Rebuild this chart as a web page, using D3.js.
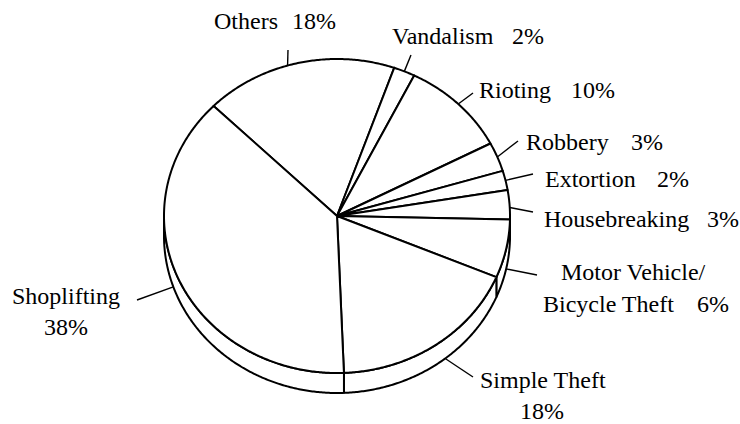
<!DOCTYPE html>
<html>
<head>
<meta charset="utf-8">
<script src="https://cdn.jsdelivr.net/npm/d3@7"></script>
<style>
  html, body { margin: 0; padding: 0; background: #fff; }
  svg { display: block; }
</style>
</head>
<body>
<svg id="chart" width="740" height="424"></svg>
<script>
// Offence categories and their share of cases (%)
const categories = [
  "Others", "Vandalism", "Rioting", "Robbery", "Extortion",
  "Housebreaking", "Motor Vehicle/\nBicycle Theft", "Simple Theft", "Shoplifting"
];
const values = [18, 2, 10, 3, 2, 3, 6, 18, 38];

// Label placement: name line origins, percentage origin, leader end, and
// a small angular shift (degrees) for where the leader meets the rim.
const labelLayout = [
  { lines: [[214, 29]], pct: [292, 29], end: [288, 50], shift: -3.5 },
  { lines: [[392, 44]], pct: [512, 44], end: [411, 55], shift: 0 },
  { lines: [[479, 98]], pct: [571, 98], end: [473, 93], shift: 0 },
  { lines: [[526, 150]], pct: [631, 150], end: [518, 141], shift: 0 },
  { lines: [[545, 187]], pct: [657, 187], end: [533, 174], shift: 0 },
  { lines: [[544, 227]], pct: [707, 227], end: [533, 212], shift: 1 },
  { lines: [[561, 280], [543, 312]], pct: [697, 312], end: [537, 275], shift: 0 },
  { lines: [[480, 388]], pct: [520, 419], end: [473, 377], shift: -4 },
  { lines: [[12, 304]], pct: [44, 335], end: [137, 300], shift: 5 }
];

const FONT = "'Liberation Serif'";

const cx = 337, cy = 216, rx = 173, ry = 157, depth = 20;
const startDeg = -45.5;
const rad = d => d * Math.PI / 180;

const svg = d3.select("#chart");

const pie = d3.pie().sort(null).value(d => d)
  .startAngle(rad(startDeg)).endAngle(rad(startDeg) + 2 * Math.PI);
const arcs = pie(values);

// Point on the tilted rim; angle measured clockwise from 12 o'clock.
const rim = (a, dy = 0) => [cx + rx * Math.sin(a), cy - ry * Math.cos(a) + dy];

function rimPoints(a0, a1, dy) {
  const n = Math.max(2, Math.ceil(Math.abs(a1 - a0) / rad(0.5)));
  return d3.range(n + 1).map(i => rim(a0 + (a1 - a0) * i / n, dy));
}

const line = d3.line();
const outline = sel => sel.attr("fill", "#fff").attr("stroke", "#000")
  .attr("stroke-width", 2).attr("stroke-linejoin", "round");

// Side wall: only the front half (90°..270°) is visible.
const frontA = rad(90), frontB = rad(270);
const sideLayer = svg.append("g");
arcs.forEach(d => {
  // bring angles into the 0..2π range for the front test
  let a0 = d.startAngle, a1 = d.endAngle;
  while (a0 < 0) { a0 += 2 * Math.PI; a1 += 2 * Math.PI; }
  const s = Math.max(a0, frontA), e = Math.min(a1, frontB);
  if (e <= s) return;
  const pts = rimPoints(s, e, 0).concat(rimPoints(e, s, depth));
  sideLayer.append("path").attr("d", line(pts) + "Z").call(outline);
});

// Top face slices
const faceLayer = svg.append("g");
arcs.forEach(d => {
  const pts = [[cx, cy]].concat(rimPoints(d.startAngle, d.endAngle, 0));
  faceLayer.append("path").attr("d", line(pts) + "Z").call(outline);
});

// Leader lines and labels
const labelLayer = svg.append("g");
const addText = (x, y, t) => labelLayer.append("text")
  .attr("x", x).attr("y", y)
  .style("font-family", FONT).attr("font-size", 24).attr("fill", "#000")
  .text(t);

arcs.forEach((d, i) => {
  const L = labelLayout[i];
  const mid = (d.startAngle + d.endAngle) / 2 + rad(L.shift);
  let m = mid % (2 * Math.PI); if (m < 0) m += 2 * Math.PI;
  const dy = (m > frontA && m < frontB) ? depth : 0;
  const p = rim(mid, dy);
  labelLayer.append("line")
    .attr("x1", p[0]).attr("y1", p[1])
    .attr("x2", L.end[0]).attr("y2", L.end[1])
    .attr("stroke", "#000").attr("stroke-width", 1.4);

  categories[i].split("\n").forEach((t, j) => addText(L.lines[j][0], L.lines[j][1], t));
  addText(L.pct[0], L.pct[1], values[i] + "%");
});
</script>
</body>
</html>
